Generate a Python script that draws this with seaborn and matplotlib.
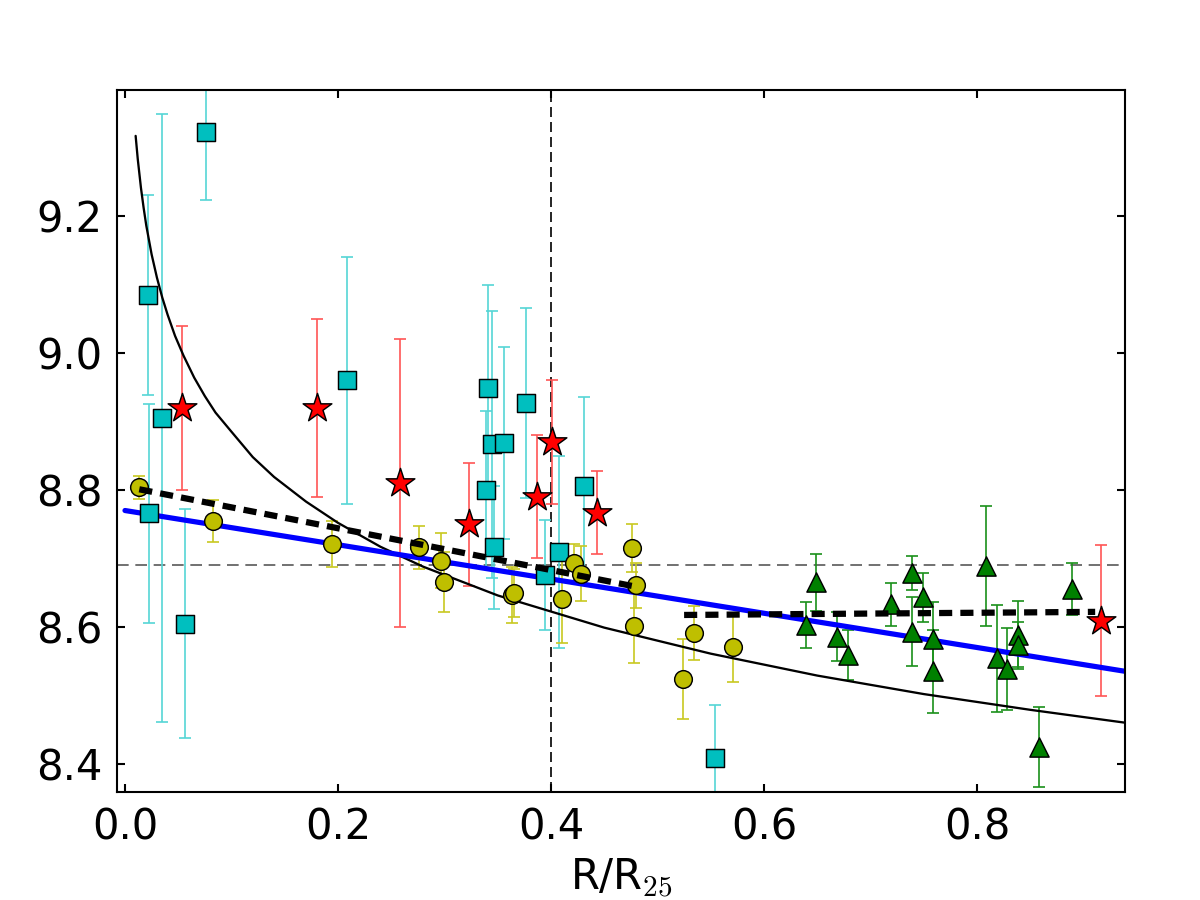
"""Metallicity gradient vs R/R25 with four tracer samples and fitted lines."""

import matplotlib
matplotlib.use("Agg")
import matplotlib.pyplot as plt
import seaborn as sns

# cyan squares
sq_x = [0.0213, 0.0228, 0.0344, 0.0563, 0.0760, 0.2080, 0.3387, 0.3405,
        0.3446, 0.3465, 0.3559, 0.3768, 0.3944, 0.4078, 0.4307, 0.5540]
sq_y = [9.084, 8.766, 8.905, 8.605, 9.323, 8.960, 8.800, 8.949,
        8.867, 8.716, 8.869, 8.927, 8.676, 8.709, 8.806, 8.409]
sq_err = [0.146, 0.160, 0.444, 0.167, 0.100, 0.180, 0.115, 0.150,
          0.195, 0.090, 0.140, 0.138, 0.080, 0.140, 0.130, 0.077]

# red stars
st_x = [0.054, 0.180, 0.258, 0.323, 0.3869, 0.4006, 0.4435, 0.9161]
st_y = [8.920, 8.920, 8.810, 8.750, 8.790, 8.870, 8.767, 8.609]
st_err = [0.120, 0.130, 0.210, 0.090, 0.090, 0.090, 0.060, 0.110]

# yellow circles
ci_x = [0.0134, 0.0823, 0.194, 0.2763, 0.2964, 0.2995, 0.3632, 0.3650, 0.4103,
        0.4216, 0.4282, 0.4757, 0.4783, 0.4798, 0.5243, 0.5343, 0.5712]
ci_y = [8.804, 8.755, 8.721, 8.716, 8.697, 8.666, 8.647, 8.650, 8.641,
        8.694, 8.678, 8.715, 8.602, 8.661, 8.524, 8.591, 8.570]
ci_err = [0.017, 0.031, 0.033, 0.032, 0.040, 0.044, 0.041, 0.035, 0.065,
          0.027, 0.040, 0.035, 0.054, 0.033, 0.058, 0.039, 0.050]

# green triangles
tr_x = [0.6391, 0.6493, 0.669, 0.679, 0.719, 0.7386, 0.7386, 0.749, 0.759,
        0.759, 0.8085, 0.8185, 0.8285, 0.8388, 0.8388, 0.8585, 0.8889]
tr_y = [8.603, 8.665, 8.586, 8.559, 8.633, 8.679, 8.593, 8.643, 8.582,
        8.535, 8.689, 8.554, 8.538, 8.588, 8.574, 8.425, 8.655]
tr_err = [0.034, 0.042, 0.036, 0.037, 0.031, 0.025, 0.050, 0.036, 0.055,
          0.060, 0.088, 0.078, 0.060, 0.050, 0.033, 0.058, 0.038]

# fitted lines
blue_x = [0.0, 0.94]
blue_y = [8.770, 8.535]
inner_x = [0.0134, 0.479]
inner_y = [8.801, 8.659]
outer_x = [0.525, 0.911]
outer_y = [8.6175, 8.622]
curve_x = [0.010, 0.012, 0.015, 0.0175, 0.020, 0.025, 0.030, 0.035, 0.040,
           0.047, 0.055, 0.065, 0.075, 0.085, 0.100, 0.120, 0.140, 0.170,
           0.200, 0.240, 0.280, 0.350, 0.450, 0.550, 0.650, 0.750, 0.850, 0.940]
curve_y = [9.317, 9.283, 9.241, 9.212, 9.186, 9.144, 9.110, 9.081, 9.056,
           9.025, 8.996, 8.964, 8.937, 8.913, 8.885, 8.848, 8.819, 8.783,
           8.752, 8.717, 8.688, 8.646, 8.599, 8.561, 8.529, 8.502, 8.479, 8.460]

solar_y = 8.69
r_split = 0.4


sns.set_theme(style="white", rc={
    "xtick.direction": "in", "ytick.direction": "in",
    "xtick.top": True, "ytick.right": True,
    "xtick.bottom": True, "ytick.left": True,
    "xtick.major.size": 4, "ytick.major.size": 4,
    "axes.edgecolor": "black", "axes.linewidth": 1.0,
    "text.color": "black", "axes.labelcolor": "black",
    "xtick.color": "black", "ytick.color": "black",
    "mathtext.fontset": "cm",
})
plt.rcParams["font.family"] = ["DejaVu Sans"]

fig, ax = plt.subplots(figsize=(8, 6), dpi=150)
fig.subplots_adjust(left=0.0975, right=0.9375, bottom=0.12, top=0.9)

ax.axhline(solar_y, color="0.35", lw=0.8, ls=(0, (7, 4)), zorder=0)
ax.axvline(r_split, color="black", lw=0.8, ls=(0, (6, 3)), zorder=0)

groups = [
    (sq_x, sq_y, sq_err, "#00bfbf", "#55d5d5", "s", 72),
    (st_x, st_y, st_err, "#ff0000", "#ff5555", "*", 210),
    (ci_x, ci_y, ci_err, "#bfbf00", "#c8c820", "o", 72),
    (tr_x, tr_y, tr_err, "#008000", "#1a901a", "^", 85),
]
for gx, gy, ge, fc, ec, mk, size in groups:
    ax.errorbar(gx, gy, yerr=ge, fmt="none", ecolor=ec, elinewidth=0.8,
                capsize=3, capthick=0.8, zorder=1)

sns.lineplot(x=curve_x, y=curve_y, color="black", lw=1.1, ax=ax, zorder=2)
sns.lineplot(x=blue_x, y=blue_y, color="#0000ff", lw=2.5, ax=ax, zorder=2)

for gx, gy, ge, fc, ec, mk, size in groups:
    sns.scatterplot(x=gx, y=gy, marker=mk, s=size, color=fc,
                    edgecolor="black", linewidth=0.7, ax=ax, zorder=3)

sns.lineplot(x=inner_x, y=inner_y, color="black", lw=3, ls=(0, (2.1, 1.3)),
             ax=ax, zorder=4)
sns.lineplot(x=outer_x, y=outer_y, color="black", lw=3, ls=(0, (2.1, 1.3)),
             ax=ax, zorder=4)

ax.set_xlim(-0.0075, 0.939)
ax.set_ylim(8.359, 9.384)
ax.set_xticks([0.0, 0.2, 0.4, 0.6, 0.8])
ax.set_yticks([8.4, 8.6, 8.8, 9.0, 9.2])
ax.tick_params(labelsize=20, pad=7, width=1, color="black")
ax.set_xlabel(r"R/R$_{25}$", fontsize=20)
ax.set_ylabel("")

fig.savefig("out.png", dpi=150)
